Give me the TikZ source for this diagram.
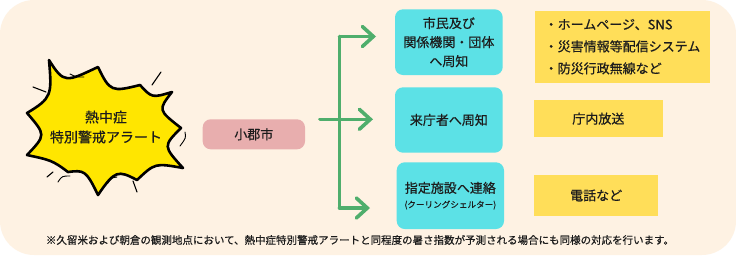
\documentclass[tikz,border=0pt]{standalone}
\usepackage{fontspec}
\setmainfont{Noto Sans CJK JP}[FakeBold=0.5]
\usetikzlibrary{arrows.meta}
\definecolor{bgc}{HTML}{FEF2E3}
\definecolor{burstc}{HTML}{FFE600}
\definecolor{cyanc}{HTML}{5CE1E6}
\definecolor{yelc}{HTML}{FFDE59}
\definecolor{pinkc}{HTML}{E8AEAE}
\definecolor{greenc}{HTML}{4FAE6C}
\definecolor{txtc}{HTML}{1C1C1C}
\tikzset{
  bluebox/.style={fill=cyanc, rounded corners=8pt, inner sep=0pt, align=center, text=txtc,
    font=\fontsize{13}{19}\selectfont},
  yelbox/.style={fill=yelc, inner sep=0pt, text=txtc, font=\fontsize{13}{22}\selectfont},
  citybox/.style={fill=pinkc, rounded corners=8pt, inner sep=0pt, text=txtc,
    font=\fontsize{13}{16}\selectfont},
  gline/.style={draw=greenc, line width=3.6pt, line cap=round, line join=round},
  garrow/.style={gline, -{Straight Barb[length=11pt,width=20pt,line cap=round]}},
  deco/.style={draw=black, line width=1.1pt, line cap=round}
}
\begin{document}
\begin{tikzpicture}[x=1pt,y=-1pt]
\useasboundingbox (0,0) rectangle (736,255);
\fill[white] (0,0) rectangle (736,255);
\fill[bgc, rounded corners=34pt] (0,0) rectangle (736,255);

% burst
\filldraw[fill=burstc, draw=black, line width=2.6pt, line join=round]
  (49,60) .. controls (64,84) and (66,82) .. (98,67)
  .. controls (110,92) and (112,92) .. (140,85)
  .. controls (152,98) and (152,98) .. (172,92)
  .. controls (158,110) and (158,110) .. (181,128)
  .. controls (163,146) and (163,146) .. (183,168)
  .. controls (155,163) and (155,163) .. (137,180)
  .. controls (118,170) and (115,170) .. (98,195)
  .. controls (86,170) and (84,170) .. (68,172)
  .. controls (52,160) and (50,160) .. (27,155)
  .. controls (46,135) and (46,135) .. (27,113)
  .. controls (52,98) and (52,95) .. (49,60) -- cycle;
\node[name=burstlabel, align=center, text=txtc, font=\fontsize{14}{20}\selectfont]
  at (106,127) {熱中症\\特別警戒アラート};
% decorative strokes
\draw[deco] (33,87) -- (46,92);
\draw[deco] (152,85) -- (161,72);
\draw[deco] (47,177) -- (53,172);
\draw[deco] (133,181) -- (137,192);
\draw[deco, line width=0.9pt] (70,74) .. controls (76,77) .. (84,77);
\draw[deco, line width=0.9pt] (185,132) .. controls (186,138) .. (180,146);
\draw[deco, line width=0.9pt] (58,182) .. controls (62,176) .. (70,176);
\draw[deco, line width=0.9pt] (108,183) .. controls (111,178) .. (117,177);

% city
\node[citybox, minimum width=102.3pt, minimum height=30pt] (city) at (253.85,134.3) {小郡市};

% blue boxes
\node[bluebox, minimum width=107.7pt, minimum height=65.7pt] (b1) at (448.85,42.15)
  {市民及び\\関係機関・団体\\へ周知};
\node[bluebox, minimum width=107.7pt, minimum height=65.4pt] (b2) at (448.85,120)
  {来庁者へ周知};
\node[bluebox, minimum width=107.3pt, minimum height=66.7pt] (b3) at (450.35,195.65)
  {指定施設へ連絡\\[-4pt]{\fontsize{8.6}{10}\selectfont (クーリングシェルター)}};

% yellow boxes
\node[yelbox, minimum width=175pt, minimum height=72pt, align=left] (y1) at (622.5,46.7)
  {・ホームページ、SNS\\・災害情報等配信システム\\・防災行政無線など};
\node[yelbox, minimum width=128.7pt, minimum height=37.3pt] (y2) at (598.35,118.65) {庁内放送};
\node[yelbox, minimum width=124.3pt, minimum height=41pt] (y3) at (596.15,195.5) {電話など};

% connectors
\coordinate (h0) at (320,119.3);
\coordinate (vt) at (339.5,36.5);
\coordinate (vb) at (339.5,208);
\coordinate (a1) at (376,36.5);
\coordinate (a2) at (373,119.3);
\coordinate (a3) at (370,208);
\draw[gline] (vt) -- (vb);
\draw[garrow] (vt) -- (a1);
\draw[garrow] (h0) -- (a2);
\draw[garrow] (vb) -- (a3);

% footnote
\node[text=txtc, font=\fontsize{10.5}{12}\selectfont] (note) at (360,240)
  {※久留米および朝倉の観測地点において、熱中症特別警戒アラートと同程度の暑さ指数が予測される場合にも同様の対応を行います。};
\end{tikzpicture}
\end{document}
